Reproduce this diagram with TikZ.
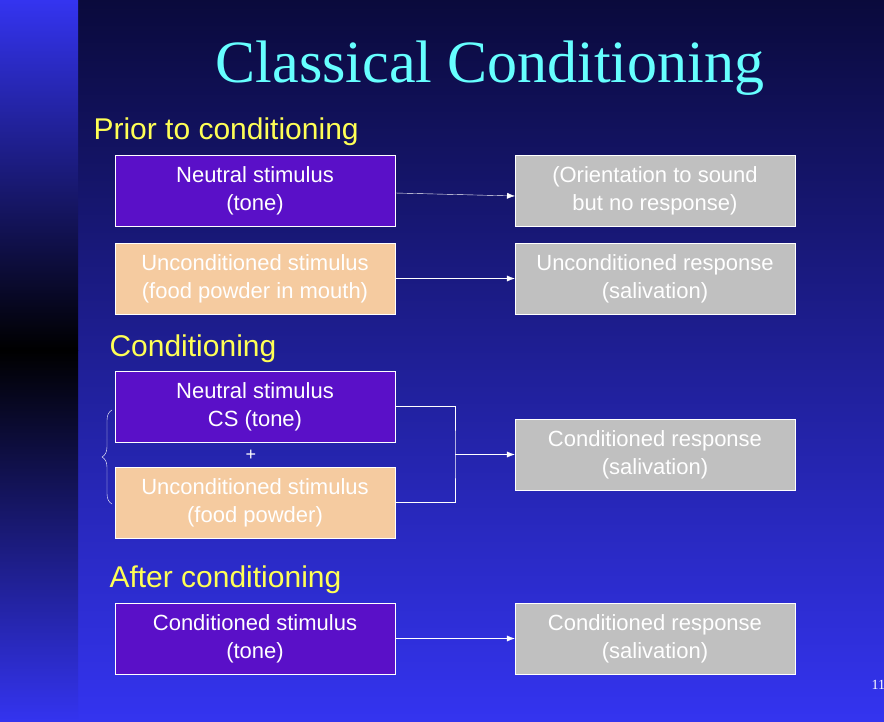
\documentclass[tikz,border=0pt]{standalone}
\usepackage{fontspec}
\setmainfont{Liberation Sans}
\newfontfamily\titlefont{Liberation Serif}
\usetikzlibrary{decorations.pathreplacing,arrows.meta}
\definecolor{navy}{HTML}{0A0A3C}
\definecolor{slideblue}{HTML}{3434F0}
\definecolor{stimpurple}{HTML}{5A10C8}
\definecolor{peach}{HTML}{F5CBA0}
\definecolor{respgray}{HTML}{C0C0C0}
\definecolor{titlecyan}{HTML}{66FFFF}
\definecolor{headyellow}{HTML}{FFFF55}
\tikzset{
  box/.style={draw=white, thin, minimum width=280pt, minimum height=71pt,
    align=center, text=white, font=\fontsize{22}{28}\selectfont, inner sep=0pt},
  neutral/.style={box, fill=stimpurple},
  uncond/.style={box, fill=peach},
  resp/.style={box, fill=respgray},
  heading/.style={anchor=west, text=headyellow, font=\fontsize{30}{32}\selectfont},
  link/.style={white, thin, -{Latex[length=8pt,width=6pt]}}
}
\begin{document}
\begin{tikzpicture}[x=1pt,y=-1pt]
    \useasboundingbox (0,0) rectangle (884,722);
    % background
    \shade[top color=navy, bottom color=slideblue] (78,0) rectangle (884,722);
    \shade[top color=slideblue, bottom color=black] (0,0) rectangle (78,350);
    \shade[top color=black, bottom color=slideblue] (0,350) rectangle (78,722);

    \node[text=titlecyan, font=\titlefont\fontsize{60}{64}\selectfont] (Title) at (490,68) {Classical Conditioning};

    % prior to conditioning
    \node[heading] (HPrior) at (90,132) {Prior to conditioning};
    \node[neutral] (NS)   at (255,190.5) {Neutral stimulus\\(tone)};
    \node[resp]    (OR)   at (655,190.5) {(Orientation to sound\\but no response)};
    \node[uncond]  (US)   at (255,278.5) {Unconditioned stimulus\\(food powder in mouth)};
    \node[resp]    (UR)   at (655,278.5) {Unconditioned response\\(salivation)};
    \coordinate (ORin) at (515,196);
    \draw[link] (395,193) -- (ORin);
    \draw[link] (US.east) -- (UR.west);

    % conditioning
    \node[heading] (HCond) at (106,349) {Conditioning};
    \node[neutral] (CS)   at (255,406.5) {Neutral stimulus\\CS (tone)};
    \node[uncond]  (USb)  at (255,502.5) {Unconditioned stimulus\\(food powder)};
    \node[text=white, font=\fontsize{18}{20}\selectfont] (Plus) at (251,455) {+};
    \node[resp]    (CR)   at (655,454.5) {Conditioned response\\(salivation)};
    \coordinate (Join) at (455,454.5);
    \draw[white, thin] (CS.east) -| (Join) |- (USb.east);
    \draw[link] (Join) -- (CR.west);
    \draw[white, thin, decorate, decoration={brace, amplitude=10pt}]
        (112,504) -- (112,410);

    % after conditioning
    \node[heading] (HAfter) at (106,580) {After conditioning};
    \node[neutral] (CSb)  at (255,638.5) {Conditioned stimulus\\(tone)};
    \node[resp]    (CRb)  at (655,638.5) {Conditioned response\\(salivation)};
    \draw[link] (CSb.east) -- (CRb.west);

    \node[anchor=west, text=white, font=\titlefont\fontsize{14}{16}\selectfont] (Page) at (868,685) {11};
\end{tikzpicture}
\end{document}
